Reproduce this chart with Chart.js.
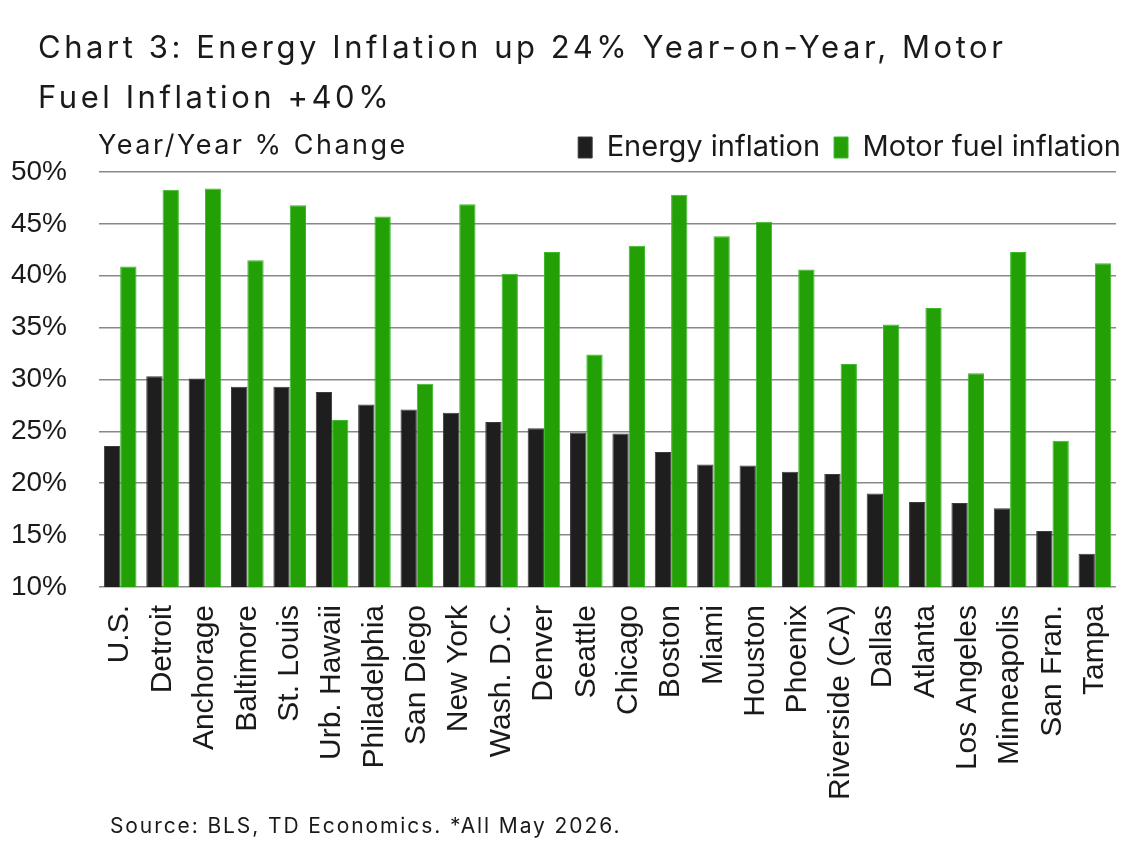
<!DOCTYPE html>
<html>
<head>
<meta charset="utf-8">
<script src="https://cdn.jsdelivr.net/npm/chart.js@4"></script>
<style>
  html, body { margin: 0; padding: 0; background: #fff; }
  body { width: 1141px; height: 848px; position: relative; overflow: hidden; font-family: Inter, "Liberation Sans", sans-serif; color: #1a1a1a; }
  #titulo { position: absolute; left: 38px; top: 22px; font-size: 31px; line-height: 50px; letter-spacing: 3.55px; white-space: nowrap; }
  #unidad { position: absolute; left: 98px; top: 128px; font-size: 27px; line-height: 34px; letter-spacing: 2.5px; white-space: nowrap; }
  #fuente { position: absolute; left: 110px; top: 812px; font-size: 21px; line-height: 28px; letter-spacing: 1.9px; white-space: nowrap; }
  #grafico { position: absolute; left: 0; top: 0; }
</style>
</head>
<body>
<canvas id="grafico" width="1141" height="848"></canvas>
<div id="titulo">Chart 3: Energy Inflation up 24% Year-on-Year, Motor<br>Fuel Inflation +40%</div>
<div id="unidad">Year/Year % Change</div>
<div id="fuente">Source: BLS, TD Economics. *All May 2026.</div>
<script>
// Datos (% a/a)
var ciudades = ['U.S.', 'Detroit', 'Anchorage', 'Baltimore', 'St. Louis', 'Urb. Hawaii', 'Philadelphia',
  'San Diego', 'New York', 'Wash. D.C.', 'Denver', 'Seattle', 'Chicago', 'Boston', 'Miami', 'Houston',
  'Phoenix', 'Riverside (CA)', 'Dallas', 'Atlanta', 'Los Angeles', 'Minneapolis', 'San Fran.', 'Tampa'];
var energia = [23.6, 30.3, 30.1, 29.3, 29.3, 28.8, 27.6, 27.1, 26.8, 25.9, 25.3, 24.9, 24.8, 23.0, 21.8, 21.7,
  21.1, 20.9, 19.0, 18.2, 18.1, 17.6, 15.4, 13.2];
var combustible = [40.9, 48.3, 48.4, 41.5, 46.8, 26.1, 45.7, 29.6, 46.9, 40.2, 42.3, 32.4, 42.9, 47.8, 43.8, 45.2,
  40.6, 31.5, 35.3, 36.9, 30.6, 42.3, 24.1, 41.2];
var ticksY = [10, 15, 20, 25, 30, 35, 40, 45, 50];

new Chart(document.getElementById('grafico'), {
  type: 'bar',
  data: {
    labels: ciudades,
    datasets: [{
      label: 'Energy inflation',
      data: energia,
      backgroundColor: '#1e1e1e',
      borderColor: '#3c3c3c',
      borderWidth: 1
    }, {
      label: 'Motor fuel inflation',
      data: combustible,
      backgroundColor: '#22a005',
      borderColor: '#3cb82a',
      borderWidth: 1
    }]
  },
  options: {
    responsive: false,
    devicePixelRatio: 1,
    animation: false,
    layout: { padding: { top: 119, left: 10, right: 6, bottom: 38 } },
    datasets: { bar: { categoryPercentage: 0.77, barPercentage: 1.0 } },
    plugins: {
      tooltip: { enabled: false },
      legend: {
        position: 'top',
        align: 'end',
        labels: {
          color: '#1a1a1a',
          font: { family: 'Inter', size: 29 },
          boxWidth: 14,
          boxHeight: 21,
          padding: 14
        }
      }
    },
    scales: {
      x: {
        grid: { display: false },
        border: { display: false },
        ticks: {
          color: '#1a1a1a',
          font: { family: 'Liberation Sans', size: 30 },
          minRotation: 90,
          maxRotation: 90,
          autoSkip: false,
          padding: 10
        }
      },
      y: {
        min: 10,
        max: 50,
        afterBuildTicks: function (axis) {
          axis.ticks = ticksY.map(function (v) { return { value: v }; });
        },
        afterFit: function (axis) { axis.width = 89; },
        grid: { color: '#888888', lineWidth: 1.6, drawTicks: false },
        border: { display: false },
        ticks: {
          color: '#1a1a1a',
          font: { family: 'Liberation Sans', size: 28 },
          padding: 32,
          callback: function (v) { return v + '%'; }
        }
      }
    }
  }
});
</script>
</body>
</html>
